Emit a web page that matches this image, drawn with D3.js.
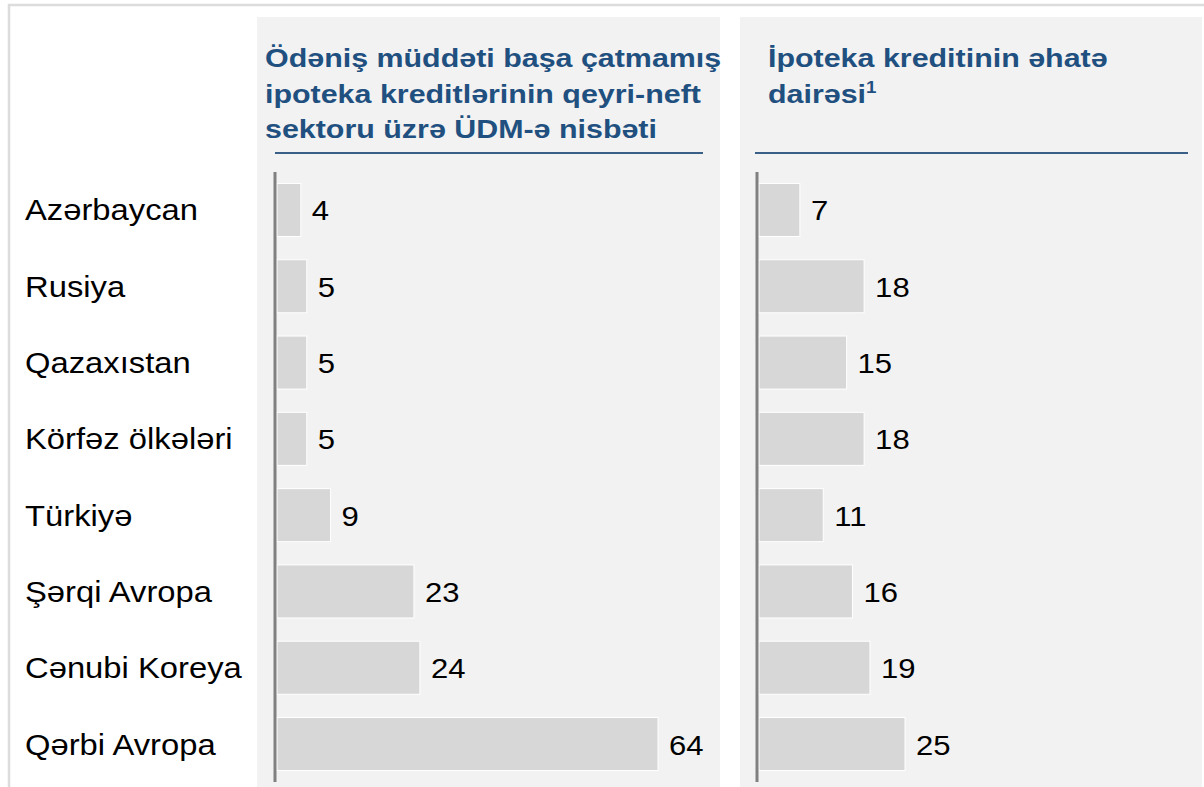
<!DOCTYPE html>
<html>
<head>
<meta charset="utf-8">
<script src="https://cdn.jsdelivr.net/npm/d3@7"></script>
<style>
  html, body { margin: 0; padding: 0; background: #fff; }
  svg { display: block; font-family: "Liberation Sans", Arial, sans-serif; }
</style>
</head>
<body>
<div id="chart"></div>
<script>
const categories = ["Azərbaycan", "Rusiya", "Qazaxıstan", "Körfəz ölkələri", "Türkiyə", "Şərqi Avropa", "Cənubi Koreya", "Qərbi Avropa"];
const mortgageToGdp = [4, 5, 5, 5, 9, 23, 24, 64];
const mortgageCoverage = [7, 18, 15, 18, 11, 16, 19, 25];
const titleLeft = ["Ödəniş müddəti başa çatmamış", "ipoteka kreditlərinin qeyri-neft", "sektoru üzrə ÜDM-ə nisbəti"];
const titleRight = ["İpoteka kreditinin əhatə", "dairəsi"];
const titleRightNote = "1";

const W = 1204, H = 787;
const titleColor = "#1f5080";
const sx = 1.13; // source picture is a bit stretched sideways

const svg = d3.select("#chart").append("svg")
  .attr("width", W).attr("height", H);

// outer frame
svg.append("rect")
  .attr("x", 9).attr("y", 5).attr("width", W + 20).attr("height", H + 20)
  .attr("fill", "#fff").attr("stroke", "#dcdcdc").attr("stroke-width", 2.5);

const y = d3.scaleBand().domain(categories).range([172, 782])
  .paddingInner(0.305).paddingOuter(0.15);

// category labels
svg.append("g").selectAll("text").data(categories).join("text")
  .attr("transform", d => `translate(25,${y(d) + y.bandwidth() / 2 + 10.5}) scale(${sx},1)`)
  .attr("font-size", 29).attr("fill", "#000")
  .text(d => d);

const panels = [
  { left: 257, right: 720, axisX: 275, values: mortgageToGdp, max: 64, end: 658, title: titleLeft, tx: 265, line: [275, 703] },
  { left: 740, right: 1202, axisX: 757, values: mortgageCoverage, max: 25, end: 905, title: titleRight, tx: 768, line: [755, 1188] }
];

panels.forEach((p, pi) => {
  const g = svg.append("g");
  g.append("rect")
    .attr("x", p.left).attr("y", 17)
    .attr("width", p.right - p.left).attr("height", H - 17)
    .attr("fill", "#f2f2f2");

  const x = d3.scaleLinear().domain([0, p.max]).range([p.axisX + 2, p.end]);
  const rows = categories.map((c, i) => ({ c, v: p.values[i] }));

  g.selectAll("rect.bar").data(rows).join("rect")
    .attr("class", "bar")
    .attr("x", x(0))
    .attr("y", d => y(d.c))
    .attr("width", d => x(d.v) - x(0))
    .attr("height", y.bandwidth())
    .attr("fill", "#d7d7d7")
    .attr("stroke", "#fff").attr("stroke-width", 1);

  g.selectAll("text.val").data(rows).join("text")
    .attr("class", "val")
    .attr("transform", d => `translate(${x(d.v) + 11},${y(d.c) + y.bandwidth() / 2 + 10.5}) scale(${sx},1)`)
    .attr("font-size", 27.5).attr("fill", "#000")
    .text(d => d.v);

  g.append("line")
    .attr("x1", p.axisX).attr("x2", p.axisX)
    .attr("y1", y.range()[0]).attr("y2", y.range()[1])
    .attr("stroke", "#808080").attr("stroke-width", 3);

  // title
  const t = g.selectAll("text.title").data(p.title).join("text")
    .attr("class", "title")
    .attr("transform", (d, i) => `translate(${p.tx},${67 + i * 35.5}) scale(1.17,1)`)
    .attr("font-size", 26).attr("font-weight", "bold").attr("fill", titleColor)
    .text(d => d);
  if (pi === 1) {
    t.filter((d, i) => i === p.title.length - 1)
      .append("tspan")
      .attr("font-size", 16).attr("dy", -10)
      .text(titleRightNote);
  }

  g.append("line")
    .attr("x1", p.line[0]).attr("x2", p.line[1])
    .attr("y1", 153).attr("y2", 153)
    .attr("stroke", "#3a5f86").attr("stroke-width", 2);
});
</script>
</body>
</html>
